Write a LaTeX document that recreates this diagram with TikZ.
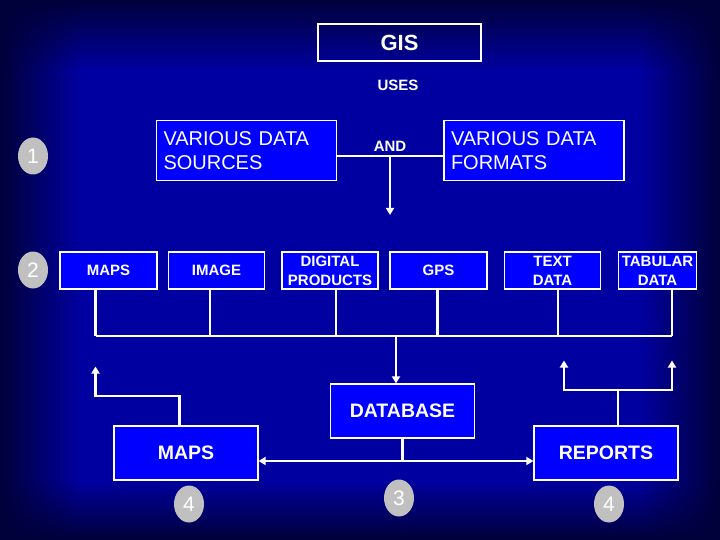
\documentclass[tikz,border=0pt]{standalone}
\usepackage{fontspec}
\setmainfont{Liberation Sans}
\usepackage{tikz}
\usetikzlibrary{arrows.meta,positioning,fadings,shapes.geometric}
\definecolor{slidebg}{RGB}{0,0,160}
\definecolor{slideedge}{RGB}{0,0,58}
\definecolor{boxblue}{RGB}{0,0,255}
\definecolor{badgegray}{RGB}{192,192,192}

\begin{document}
\begin{tikzpicture}[
  x=1pt, y=-1pt,
  every node/.style={text=white},
  box/.style={draw=white, line width=1.2pt, fill=boxblue, align=center, inner sep=0pt,
              minimum height=37pt, font=\bfseries\fontsize{15}{19}\selectfont},
  bigbox/.style={draw=white, line width=1.2pt, fill=boxblue, align=center, inner sep=0pt,
              minimum width=144pt, minimum height=54pt, font=\bfseries\fontsize{19.5}{22}\selectfont},
  srcbox/.style={draw=white, line width=1.2pt, fill=boxblue, align=left, inner xsep=7pt,
              inner ysep=0pt, text width=166pt, minimum height=59.6pt,
              font=\fontsize{20}{23.3}\selectfont},
  lbl/.style={font=\bfseries\fontsize{15}{15}\selectfont, inner sep=0pt},
  badge/.style={ellipse, fill=badgegray, inner sep=0pt, minimum width=30pt,
              minimum height=37pt, font=\fontsize{21}{21}\selectfont},
  conn/.style={draw=white, line width=2.2pt},
  arr/.style={conn, -{Triangle[width=8pt,length=7pt]}},
  dblarr/.style={conn, {Triangle[width=8pt,length=7pt]}-{Triangle[width=8pt,length=7pt]}}
]
\useasboundingbox (0,0) rectangle (720,540);
\fill[slidebg] (0,0) rectangle (720,540);
\fill[slideedge, path fading=east] (0,0) rectangle (80,540);
\fill[slideedge, path fading=west] (640,0) rectangle (720,540);
\fill[slideedge, path fading=south] (0,0) rectangle (720,70);
\fill[slideedge, path fading=north] (0,480) rectangle (720,540);

\node[draw=white, line width=1.2pt, minimum width=163pt, minimum height=37pt, inner sep=0pt,
      font=\bfseries\fontsize{22}{22}\selectfont] (gis) at (399.5,42.5) {GIS};
\node[lbl] (uses) at (398,85) {USES};
\node[srcbox] (sources) at (246.5,150.5) {VARIOUS DATA\\SOURCES};
\node[srcbox] (formats) at (534,150.5) {VARIOUS DATA\\FORMATS};
\node[lbl] (andlbl) at (390,146) {AND};

\node[badge] (one) at (33,156) {1};
\node[badge] (two) at (33,270) {2};

\node[box, minimum width=97pt] (maps) at (108.5,270.5) {MAPS};
\node[box, minimum width=96pt] (image) at (216.5,270.5) {IMAGE};
\node[box, minimum width=96pt] (digital) at (330,270.5) {DIGITAL\\PRODUCTS};
\node[box, minimum width=97pt] (gps) at (438.5,270.5) {GPS};
\node[box, minimum width=96pt] (textdata) at (552.5,270.5) {TEXT\\DATA};
\node[box, minimum width=78pt] (tabular) at (657.5,270.5) {TABULAR\\DATA};

\node[bigbox] (database) at (402.5,411) {DATABASE};
\node[bigbox] (mapsout) at (186,453) {MAPS};
\node[bigbox] (reports) at (606,453) {REPORTS};

\node[badge] (fourl) at (189,504) {4};
\node[badge] (three) at (399,498) {3};
\node[badge] (fourr) at (609,504) {4};

\coordinate (andj) at (390,155.7);
\coordinate (andtip) at (390,215);
\coordinate (bmaps) at (95.5,335.7);
\coordinate (bimage) at (210,335.7);
\coordinate (bdigital) at (336,335.7);
\coordinate (bgps) at (437.5,335.7);
\coordinate (btext) at (558,335.7);
\coordinate (btab) at (672,335.7);
\coordinate (bdb) at (396,335.7);
\coordinate (dbj) at (402.5,461);
\coordinate (mapsbend) at (179.5,395.7);
\coordinate (mapsup) at (95.5,366.5);
\coordinate (repbend) at (618,390);
\coordinate (repl) at (564,360.5);
\coordinate (repr) at (672,360.5);

\draw[conn] (sources.east |- andj) -- (formats.west |- andj);
\draw[arr] (andj) -- (andtip);
\draw[conn] (maps.south -| bmaps) -- (bmaps);
\draw[conn] (image.south -| bimage) -- (bimage);
\draw[conn] (digital.south -| bdigital) -- (bdigital);
\draw[conn] (gps.south -| bgps) -- (bgps);
\draw[conn] (textdata.south -| btext) -- (btext);
\draw[conn] (tabular.south -| btab) -- (btab);
\draw[conn] (bmaps) -- (btab);
\draw[arr] (bdb) -- (bdb |- database.north);
\draw[conn] (database.south -| dbj) -- (dbj);
\draw[dblarr] (mapsout.east |- dbj) -- (reports.west |- dbj);
\draw[arr] (mapsout.north -| mapsbend) -- (mapsbend) -| (mapsup);
\draw[conn] (reports.north -| repbend) -- (repbend);
\draw[arr] (repbend) -| (repl);
\draw[arr] (repbend) -| (repr);
\end{tikzpicture}
\end{document}
